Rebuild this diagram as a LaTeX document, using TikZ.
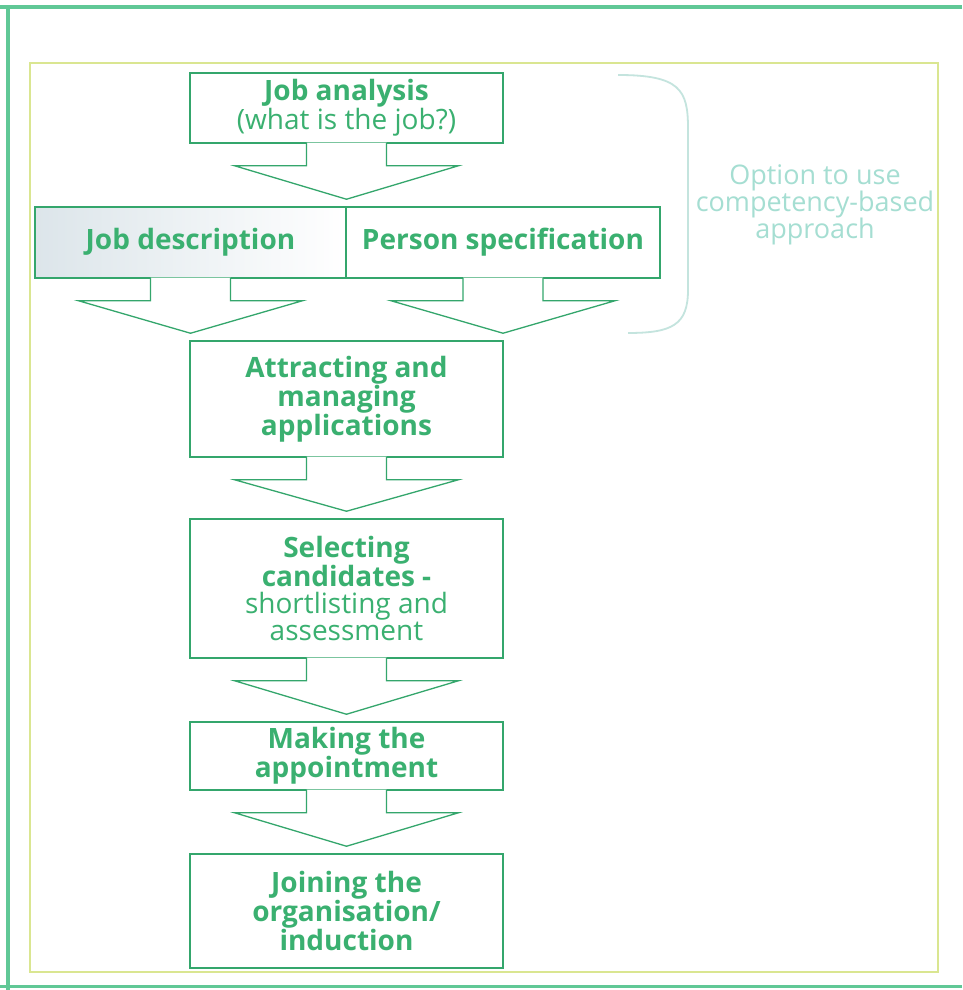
\documentclass[tikz,border=0pt]{standalone}
\usepackage{fontspec}
\setmainfont{Open Sans}
\usetikzlibrary{calc}

\definecolor{textgreen}{RGB}{58,176,112}
\definecolor{linegreen}{RGB}{52,166,108}
\definecolor{framegreen}{RGB}{96,200,150}
\definecolor{frameyellow}{RGB}{218,230,145}
\definecolor{bracketblue}{RGB}{196,228,222}
\definecolor{optiontext}{RGB}{165,222,210}
\definecolor{descgray}{RGB}{220,229,234}

\tikzset{%
        stage/.style={
                draw=linegreen,
                line width=1.5pt,
                text=textgreen,
                font=\fontsize{28}{27}\selectfont\bfseries,
                align=center,
                inner sep=0pt,
                minimum width=313pt
            },
        flow/.style={
                draw=linegreen,
                line width=1.3pt,
                line join=miter
            }
    }

% block arrow: #1 gives x, from #2 down to #3
\newcommand{\flowarrow}[3]{%
    \fill[white] let \p1=(#1), \p2=(#2.south), \p3=(#3.north) in
        (\x1-40pt,\y2+1pt) -- (\x1-40pt,\y2-22pt) -- (\x1-112pt,\y2-22pt) -- (\x1,\y3+7pt)
        -- (\x1+112pt,\y2-22pt) -- (\x1+40pt,\y2-22pt) -- (\x1+40pt,\y2+1pt) -- cycle;
    \draw[flow] let \p1=(#1), \p2=(#2.south), \p3=(#3.north) in
        (\x1-40pt,\y2+0.75pt) -- (\x1-40pt,\y2-22pt) -- (\x1-112pt,\y2-22pt) -- (\x1,\y3+7pt)
        -- (\x1+112pt,\y2-22pt) -- (\x1+40pt,\y2-22pt) -- (\x1+40pt,\y2+0.75pt);
}

\begin{document}
\begin{tikzpicture}[x=1pt, y=1pt]
    \useasboundingbox (0,0) rectangle (962,990);
    \fill[white] (0,0) rectangle (962,990);

    % frames:
        \draw[framegreen, line width=4pt] (0,983) -- (962,983);
        \draw[framegreen, line width=4pt] (8,0) -- (8,983);
        \draw[framegreen, line width=3pt] (0,3) -- (962,3);
        \draw[frameyellow, line width=1.5pt] (30,927) rectangle (938,18);

    % stages:
        \node [stage, minimum height=70pt]  (ja) at (346.5,882) {Job analysis\\{\mdseries (what is the job?)}};
        \node [stage, minimum width=311pt, minimum height=71pt,
               path picture={\shade[left color=descgray, middle color=descgray!35!white, right color=white]
                   (path picture bounding box.north west) rectangle (path picture bounding box.south east);}]
              (jd) at (190.5,747.5) {Job description};
        \node [stage, minimum width=314pt, minimum height=71pt]  (ps) at (503,747.5) {Person specification};
        \node [stage, minimum height=116pt]  (att) at (346.5,591) {Attracting and\\managing\\applications};
        \node [stage, minimum height=139pt]  (sel) at (346.5,401.5) {Selecting\\candidates -\\{\mdseries shortlisting and}\\{\mdseries assessment}};
        \node [stage, minimum height=68pt]  (app) at (346.5,234) {Making the\\appointment};
        \node [stage, minimum height=114pt]  (join) at (346.5,79) {Joining the\\organisation/\\induction};

        \flowarrow{ja}{ja}{jd}
        \flowarrow{jd}{jd}{att}
        \flowarrow{ps}{ps}{att}
        \flowarrow{att}{att}{sel}
        \flowarrow{sel}{sel}{app}
        \flowarrow{app}{app}{join}

    % competency option:
        \node [text=optiontext, font=\fontsize{27}{27}\selectfont, align=center]  (opt) at (815,785) {Option to use\\competency-based\\approach};
        \draw[bracketblue, line width=1.8pt] (618,915) .. controls (680,915) and (688,900) .. (688,862)
            -- (688,700) .. controls (688,665) and (672,657) .. (628,657);
\end{tikzpicture}
\end{document}
